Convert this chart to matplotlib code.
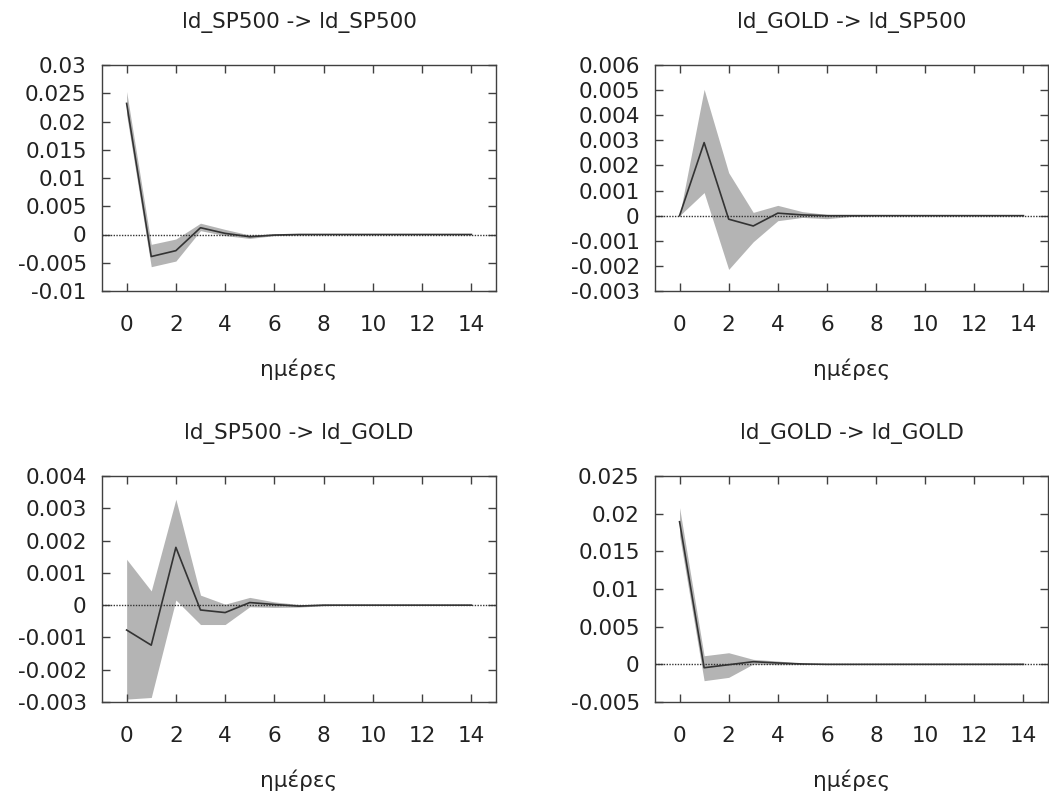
import matplotlib
matplotlib.use("Agg")
import matplotlib.pyplot as plt
from matplotlib.ticker import FuncFormatter, MultipleLocator
import numpy as np

plt.rcParams['font.family'] = ['DejaVu Sans']

days = list(range(15))

titles = ["ld_SP500 -> ld_SP500", "ld_GOLD -> ld_SP500",
          "ld_SP500 -> ld_GOLD", "ld_GOLD -> ld_GOLD"]
xlabel = "ημέρες"

# Panel 1: ld_SP500 -> ld_SP500
p1_mid = [0.0232, -0.0039, -0.00286, 0.0012, 0.0002, -0.0004, -0.0001, 0, 0, 0, 0, 0, 0, 0, 0]
p1_lo  = [0.0212, -0.0057, -0.0047, 0.00068, -0.0002, -0.0007, -0.0002, -0.00005, 0, 0, 0, 0, 0, 0, 0]
p1_hi  = [0.0253, -0.00174, -0.0008, 0.0020, 0.0009, -0.0001, 0.0001, 0.00003, 0, 0, 0, 0, 0, 0, 0]

# Panel 2: ld_GOLD -> ld_SP500
p2_mid = [0.0, 0.00291, -0.00014, -0.00041, 0.0001, 0.00003, 0.0, 0, 0, 0, 0, 0, 0, 0, 0]
p2_lo  = [0.0, 0.00092, -0.00214, -0.00104, -0.0002, -0.00007, -0.00012, -0.00003, 0, 0, 0, 0, 0, 0, 0]
p2_hi  = [0.0, 0.00503, 0.00171, 0.00013, 0.00041, 0.00016, 0.00005, 0.00002, 0, 0, 0, 0, 0, 0, 0]

# Panel 3: ld_SP500 -> ld_GOLD
p3_mid = [-0.00077, -0.00124, 0.00179, -0.00015, -0.00023, 0.00008, 0.00002, -0.00003, 0, 0, 0, 0, 0, 0, 0]
p3_lo  = [-0.00291, -0.00286, 0.00016, -0.0006, -0.0006, -0.00005, -0.00007, -0.00006, -0.00002, 0, 0, 0, 0, 0, 0]
p3_hi  = [0.00142, 0.00044, 0.00328, 0.00031, 0.00003, 0.00024, 0.0001, 0.00002, 0.00001, 0, 0, 0, 0, 0, 0]

# Panel 4: ld_GOLD -> ld_GOLD
p4_mid = [0.01893, -0.00045, -0.00005, 0.00035, 0.00018, 0.00005, 0.0, 0, 0, 0, 0, 0, 0, 0, 0]
p4_lo  = [0.0171, -0.00217, -0.00173, 0.00004, -0.00004, -0.00002, -0.00001, 0, 0, 0, 0, 0, 0, 0, 0]
p4_hi  = [0.0208, 0.00114, 0.00154, 0.00066, 0.00044, 0.00015, 0.00004, 0, 0, 0, 0, 0, 0, 0, 0]

ylims = [(-0.01, 0.03), (-0.003, 0.006), (-0.003, 0.004), (-0.005, 0.025)]
ysteps = [0.005, 0.001, 0.001, 0.005]

mids = [p1_mid, p2_mid, p3_mid, p4_mid]
los = [p1_lo, p2_lo, p3_lo, p4_lo]
his = [p1_hi, p2_hi, p3_hi, p4_hi]

fig = plt.figure(figsize=(10.49, 7.93), dpi=100)
W, H = 1049, 793
boxes = [(102, 65, 496, 291), (655, 65, 1048, 291),
         (102, 476, 496, 702), (655, 476, 1048, 702)]

frame_col = '#404040'
fs = 15.5

def fmt(v, pos):
    if abs(v) < 1e-12:
        return "0"
    return "%g" % round(v, 6)

for i in range(4):
    l, t, r, b = boxes[i]
    ax = fig.add_axes([l / W, 1 - b / H, (r - l) / W, (b - t) / H])
    ax.fill_between(days, los[i], his[i], color='#b4b4b4', linewidth=0)
    ax.axhline(0, color='#333333', linestyle=(0, (1, 1)), linewidth=1.0)
    ax.plot(days, mids[i], color='#333333', linewidth=1.2)
    ax.set_xlim(-1, 15)
    ax.set_ylim(*ylims[i])
    ax.xaxis.set_major_locator(MultipleLocator(2))
    ax.yaxis.set_major_locator(MultipleLocator(ysteps[i]))
    ax.yaxis.set_major_formatter(FuncFormatter(fmt))
    ax.tick_params(direction='in', top=True, right=True, length=6, width=1,
                   color=frame_col, labelsize=fs, labelcolor='#222222')
    ax.tick_params(axis='x', pad=17)
    ax.tick_params(axis='y', pad=11)
    for sp in ax.spines.values():
        sp.set_color(frame_col)
        sp.set_linewidth(1.0)
    ax.set_title(titles[i], fontsize=fs, color='#222222', pad=27)
    ax.set_xlabel(xlabel, fontsize=fs, color='#222222', labelpad=17)

fig.savefig("out.png", dpi=100)
